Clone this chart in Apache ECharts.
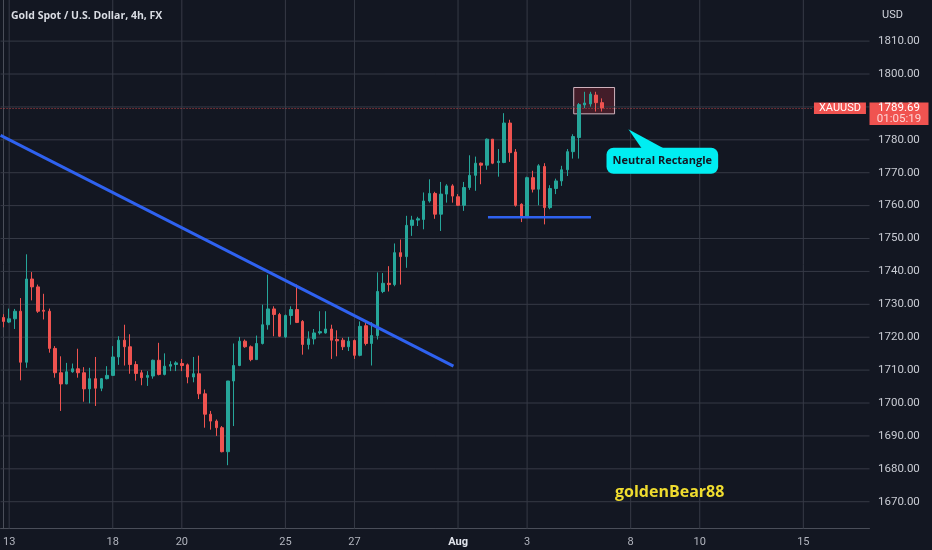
<!DOCTYPE html>
<html><head><meta charset="utf-8">
<script src="https://cdn.jsdelivr.net/npm/echarts@6.0.0/dist/echarts.min.js"></script>
<style>html,body{margin:0;padding:0;background:#131722;}#c{width:932px;height:550px;}</style>
</head><body><div id="c"></div>
<script>
// ---- data (4h candles) ----
const opens  = [1726.0,1724.6,1725.6,1727.9,1712.4,1737.7,1735.3,1728.2,1727.9,1716.6,1709.2,1705.8,1709.5,1710.4,1709.2,1704.3,1707.4,1704.5,1707.4,1708.4,1714.0,1719.1,1717.1,1711.7,1709.2,1707.8,1708.2,1713.0,1708.7,1711.2,1711.7,1712.0,1711.6,1707.9,1708.9,1702.8,1696.6,1694.5,1692.5,1685.2,1706.7,1711.4,1718.8,1717.1,1713.2,1718.1,1723.8,1728.6,1726.9,1720.1,1726.6,1728.4,1724.8,1717.8,1719.5,1721.3,1721.3,1722.5,1719.3,1719.1,1717.1,1719.0,1714.5,1723.5,1718.1,1720.5,1733.9,1736.4,1736.0,1745.7,1744.5,1754.0,1755.6,1755.8,1761.4,1763.7,1757.4,1763.5,1766.0,1762.7,1760.1,1765.5,1769.2,1772.9,1772.3,1780.2,1773.1,1773.1,1785.1,1776.3,1760.4,1756.6,1768.5,1765.0,1771.9,1759.4,1765.2,1767.5,1770.9,1776.4,1780.7,1790.6,1790.9,1793.6,1791.3];
const closes = [1724.8,1725.6,1727.9,1712.4,1737.7,1735.3,1727.9,1727.9,1716.6,1709.2,1705.8,1709.5,1710.4,1709.2,1704.3,1707.4,1704.5,1707.4,1708.4,1714.0,1719.1,1717.1,1711.7,1709.0,1707.7,1708.4,1713.0,1708.7,1711.2,1711.7,1712.2,1711.4,1707.9,1708.9,1702.8,1696.6,1694.5,1692.5,1685.2,1706.7,1711.4,1718.8,1717.1,1713.2,1718.1,1723.8,1728.6,1726.9,1720.3,1726.6,1728.4,1724.5,1717.8,1719.5,1721.3,1721.7,1722.5,1719.1,1718.9,1717.1,1718.8,1714.5,1723.3,1718.1,1720.5,1733.9,1736.4,1736.0,1745.7,1744.5,1754.0,1755.6,1756.0,1761.4,1763.7,1757.4,1763.5,1766.0,1762.9,1760.1,1765.5,1769.2,1772.9,1772.3,1780.2,1772.9,1773.5,1785.1,1776.1,1760.1,1756.6,1768.5,1765.0,1772.1,1759.4,1765.2,1767.5,1770.9,1776.4,1781.0,1790.7,1791.2,1793.9,1791.3,1789.7];
const lows   = [1723.0,1724.3,1722.5,1706.9,1710.7,1731.2,1727.4,1725.4,1715.3,1707.7,1697.6,1705.7,1709.2,1707.7,1700.4,1699.9,1699.1,1703.6,1707.2,1708.2,1711.6,1711.4,1708.9,1706.8,1705.4,1705.2,1707.4,1708.4,1708.4,1709.7,1709.7,1709.7,1706.0,1706.3,1701.2,1692.5,1691.9,1690.0,1685.0,1681.1,1693.0,1711.2,1716.8,1712.7,1713.2,1717.8,1722.3,1720.3,1720.1,1719.8,1723.8,1724.3,1714.7,1716.3,1717.8,1720.8,1721.1,1713.4,1714.2,1716.1,1715.8,1713.4,1714.2,1717.5,1711.4,1719.3,1733.4,1733.9,1735.5,1736.0,1741.1,1750.8,1753.8,1752.8,1760.9,1756.0,1752.3,1760.9,1760.9,1759.9,1758.4,1764.8,1764.5,1766.5,1770.9,1772.6,1768.8,1772.9,1773.3,1759.7,1755.0,1756.3,1764.0,1760.1,1754.3,1758.9,1763.5,1766.0,1769.0,1774.3,1774.3,1789.6,1790.1,1788.6,1788.6];
const highs  = [1727.0,1728.7,1728.6,1731.9,1745.2,1739.8,1736.0,1733.2,1728.7,1717.3,1714.2,1712.2,1712.0,1716.5,1710.9,1710.7,1714.0,1707.6,1711.2,1717.3,1720.3,1723.8,1720.9,1712.7,1710.0,1709.7,1713.2,1718.3,1715.1,1712.7,1712.7,1713.4,1712.0,1714.0,1714.4,1704.1,1697.6,1695.0,1693.0,1706.7,1718.1,1720.1,1719.3,1717.5,1720.5,1729.9,1739.0,1729.4,1727.4,1726.9,1729.4,1736.0,1725.2,1721.8,1722.5,1727.9,1727.9,1723.8,1722.1,1719.8,1720.1,1719.3,1724.8,1724.3,1724.6,1739.7,1739.5,1741.6,1748.5,1749.7,1756.9,1756.9,1756.6,1764.0,1768.0,1764.2,1767.2,1766.5,1766.5,1763.5,1767.2,1775.3,1774.9,1773.1,1780.4,1780.2,1777.2,1788.1,1786.1,1777.2,1760.7,1768.8,1770.6,1772.6,1772.9,1766.2,1768.2,1772.1,1777.2,1781.7,1791.2,1794.6,1794.6,1794.6,1792.6];

// axis ticks
const tickIdx   = [1, 19, 31, 49, 61, 79, 91, 109, 121, 139];
const tickText  = ['13', '18', '20', '25', '27', 'Aug', '3', '8', '10', '15'];
const priceTicks = [1670,1680,1690,1700,1710,1720,1730,1740,1750,1760,1770,1780,1790,1800,1810];

// drawings (data space: [slot index, price])
const trendLine   = [[-0.5, 1781.35], [78.2, 1711.2]];
const supportLine = [[84.2, 1756.5], [102.1, 1756.5]];
const rangeBox    = [[99.1, 1795.9], [106.2, 1787.9]];
const calloutBox  = [[104.8, 1777.6], [124.2, 1769.7]];
const calloutTip  = [108.6, 1783.2];
const calloutBase = [[111.2, 1777.6], [115.5, 1777.6]];
const calloutText = 'Neutral Rectangle';
const lastPrice = 1789.69;
const lastPriceLineEnd = 140.5;
const symbolName = 'XAUUSD';
const countdown = '01:05:19';
const titleText = 'Gold Spot / U.S. Dollar, 4h, FX';
const watermark = 'goldenBear88';

// ---- chart ----
const SLOTS = 151;
const Y_MIN = 1661.8, Y_MAX = 1822.5;
const categories = Array.from({length: SLOTS}, (_, i) => {
  const j = tickIdx.indexOf(i); return j >= 0 ? tickText[j] : '';
});
const candles = opens.map((o, i) => [o, closes[i], lows[i], highs[i]]);

const GRID = {left: 0.3, right: 62.5, top: 0, bottom: 21.3};
const gridColor = '#363a46';

const gridSeries = [];
priceTicks.forEach(v => gridSeries.push({type: 'line', name: 'h' + v, xAxisIndex: 1, yAxisIndex: 0, silent: true, symbol: 'none', showSymbol: false, z: 1, clip: false,
  data: [[-0.5, v], [SLOTS - 0.5, v]], lineStyle: {color: gridColor, width: 1, opacity: 1}}));
tickIdx.forEach(k => gridSeries.push({type: 'line', name: 'v' + k, xAxisIndex: 1, yAxisIndex: 0, silent: true, symbol: 'none', showSymbol: false, z: 1, clip: false,
  data: [[k, Y_MIN], [k, Y_MAX]], lineStyle: {color: gridColor, width: 1, opacity: 1}}));

const chart = echarts.init(document.getElementById('c'), null, {renderer: 'canvas'});
chart.setOption({
  animation: false,
  backgroundColor: '#131722',
  title: [
    {text: titleText, left: 6, top: 6, textStyle: {color: '#d9dce3', fontSize: 10.5, fontWeight: 'bold', fontFamily: 'Open Sans'}},
    {text: 'USD', left: 877, top: 5, textStyle: {color: '#d1d4dc', fontSize: 11, fontWeight: 'normal', fontFamily: 'Roboto'}},
    {text: watermark, left: 610, top: 479, textStyle: {color: '#efdc2f', fontSize: 16, fontWeight: 'bold', fontFamily: 'Open Sans'}}
  ],
  grid: Object.assign({containLabel: false}, GRID),
  xAxis: [
    {type: 'category', data: categories, boundaryGap: true,
     axisLine: {show: true, lineStyle: {color: '#4a4e59'}},
     axisTick: {show: false},
     splitLine: {show: false},
     axisLabel: {interval: (i) => tickIdx.indexOf(i) >= 0, margin: 8, color: '#b2b5be', fontSize: 11, fontFamily: 'Roboto',
       formatter: (v) => v === 'Aug' ? '{b|Aug}' : v,
       rich: {b: {fontWeight: 'bold', color: '#e0e3eb', fontSize: 11, fontFamily: 'Roboto'}}}},
    {type: 'value', show: false, min: -0.5, max: SLOTS - 0.5}
  ],
  yAxis: {type: 'value', position: 'right', min: Y_MIN, max: Y_MAX, scale: true,
    splitNumber: 16, minInterval: 10, maxInterval: 10,
    axisLine: {show: true, lineStyle: {color: '#4a4e59'}},
    axisTick: {show: false},
    splitLine: {show: false},
    axisLabel: {margin: 8.5, color: '#c9ccd4', fontSize: 11.5, fontFamily: 'Roboto', showMinLabel: false, showMaxLabel: false,
      formatter: (v) => priceTicks.indexOf(Math.round(v * 100) / 100) >= 0 ? v.toFixed(2) : ''}},
  series: gridSeries.concat([
    {type: 'candlestick', name: 'XAUUSD', xAxisIndex: 0, yAxisIndex: 0, data: candles, barWidth: 3, z: 2,
     itemStyle: {color: '#26a69a', color0: '#ef5350', borderColor: '#26a69a', borderColor0: '#ef5350', borderWidth: 1}},
    {type: 'line', name: 'range', xAxisIndex: 1, yAxisIndex: 0, data: [], z: 1, silent: true,
     markArea: {silent: true, z: 1, label: {show: false},
       itemStyle: {color: 'rgba(242,54,69,0.22)', borderColor: 'rgba(235,205,215,0.85)', borderWidth: 1},
       data: [[{coord: rangeBox[0]}, {coord: rangeBox[1]}]]}},
    {type: 'line', name: 'last', xAxisIndex: 1, yAxisIndex: 0, data: [], z: 3, silent: true,
     markLine: {silent: true, symbol: 'none', z: 3, label: {show: false},
       lineStyle: {color: 'rgba(240,80,80,0.75)', width: 1, type: [1, 2]},
       data: [[{coord: [-0.5, lastPrice]}, {coord: [lastPriceLineEnd, lastPrice]}]]}},
    {type: 'line', name: 'trend', xAxisIndex: 1, yAxisIndex: 0, data: trendLine, symbol: 'none', clip: false, z: 4, silent: true,
     lineStyle: {color: '#2f62f0', width: 3}},
    {type: 'line', name: 'support', xAxisIndex: 1, yAxisIndex: 0, data: supportLine, symbol: 'none', clip: false, z: 4, silent: true,
     lineStyle: {color: '#2f62f0', width: 2.5}}
  ])
});

const toPx = (pt) => chart.convertToPixel({xAxisIndex: 1, yAxisIndex: 0}, pt);
const py = toPx([0, lastPrice])[1];
const lx = toPx([lastPriceLineEnd, lastPrice])[0];
const xr = 932 - GRID.right;
const b0 = toPx(calloutBox[0]), b1 = toPx(calloutBox[1]);
const tip = toPx(calloutTip), bs0 = toPx(calloutBase[0]), bs1 = toPx(calloutBase[1]);
const red = '#f05350';
chart.setOption({
  graphic: [
    {type: 'rect', shape: {x: lx + 2, y: py - 5.5, width: 52, height: 11.5}, style: {fill: red}, z: 10},
    {type: 'text', x: lx + 28, y: py + 0.5, style: {text: symbolName, fill: '#ffffff', font: '11px Roboto', align: 'center', verticalAlign: 'middle', textAlign: 'center', textVerticalAlign: 'middle'}, z: 11},
    {type: 'rect', shape: {x: xr, y: py - 5.5, width: 59, height: 22.5}, style: {fill: red}, z: 10},
    {type: 'text', x: xr + 29.5, y: py + 0.5, style: {text: lastPrice.toFixed(2), fill: '#ffffff', font: '11.5px Roboto', align: 'center', verticalAlign: 'middle', textAlign: 'center', textVerticalAlign: 'middle'}, z: 11},
    {type: 'text', x: xr + 29.5, y: py + 11.5, style: {text: countdown, fill: 'rgba(255,235,235,0.85)', font: '11.5px Roboto', align: 'center', verticalAlign: 'middle', textAlign: 'center', textVerticalAlign: 'middle'}, z: 11},
    {type: 'polygon', shape: {points: [tip, [bs0[0], bs0[1] + 3], [bs1[0], bs1[1] + 3]]}, style: {fill: '#00eef2'}, z: 10},
    {type: 'rect', shape: {x: b0[0], y: b0[1], width: b1[0] - b0[0], height: b1[1] - b0[1], r: 7}, style: {fill: '#00eef2'}, z: 10},
    {type: 'text', x: (b0[0] + b1[0]) / 2, y: (b0[1] + b1[1]) / 2, style: {text: calloutText, fill: '#131722', font: 'bold 11px "Open Sans"', align: 'center', verticalAlign: 'middle', textAlign: 'center', textVerticalAlign: 'middle'}, z: 11}
  ]
});
</script>
</body></html>
